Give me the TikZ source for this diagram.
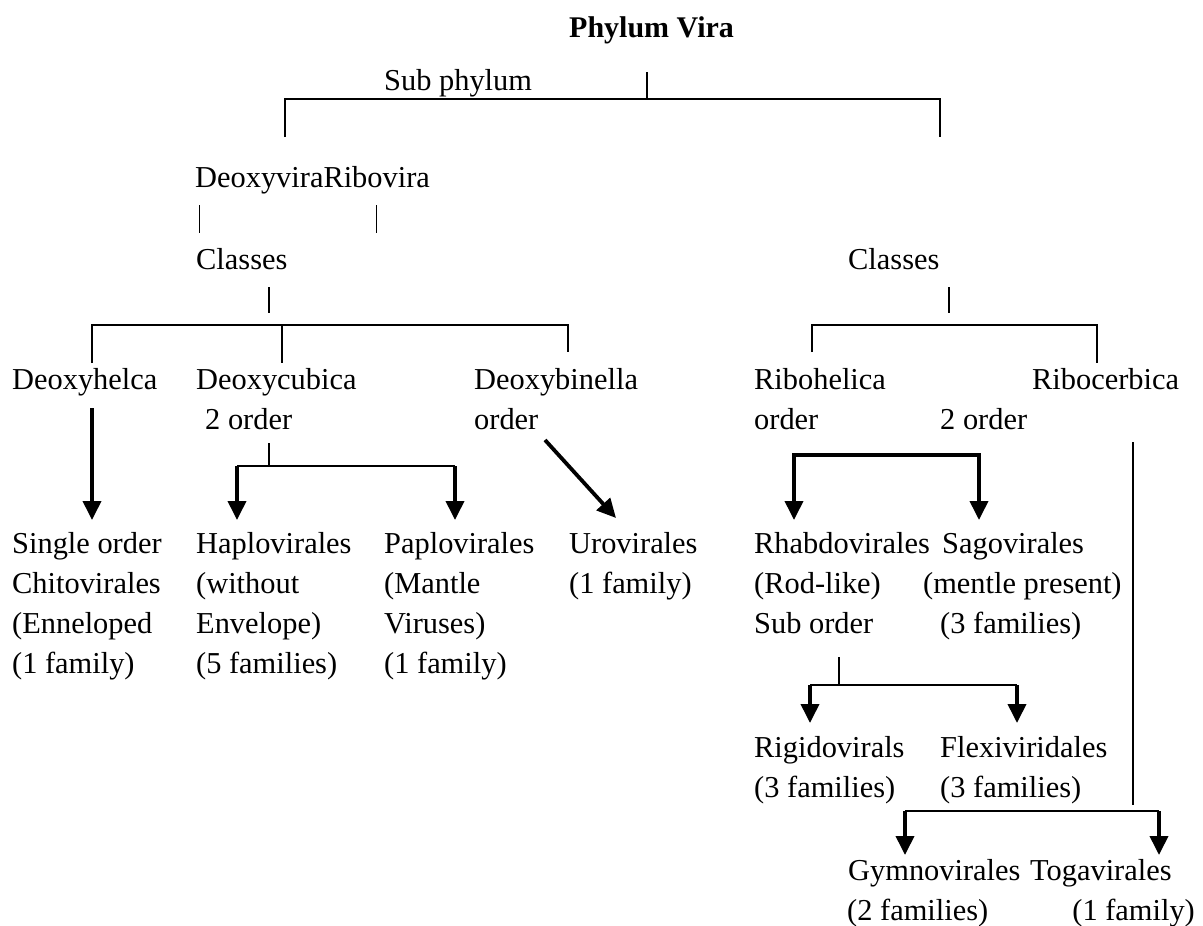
\documentclass[tikz,border=0pt]{standalone}
\usepackage{fontspec}
\setmainfont{Liberation Serif}
\usetikzlibrary{arrows.meta}
\begin{document}
\begin{tikzpicture}[x=1pt,y=-1pt,
  txt/.style={anchor=base west,inner sep=0pt,font=\fontsize{30.4}{41}\selectfont},
  ttl/.style={txt,font=\fontsize{30}{41}\selectfont\bfseries},
  ln/.style={line width=1.6pt},
  hair/.style={line width=1pt},
  mid/.style={line width=2.2pt},
  heavy/.style={line width=3.6pt,line cap=butt},
  arr/.style={line width=3.8pt,-{Triangle[width=18pt,length=19pt]}}
]
\useasboundingbox (0,0) rectangle (1203,926);
% ---------- texts ----------
\node[ttl] (phylum) at (569,37) {Phylum Vira};
\node[txt] (subph) at (384,90) {Sub phylum};
\node[txt] (dr) at (195,187) {DeoxyviraRibovira};
\node[txt] (classL) at (196,269) {Classes};
\node[txt] (classR) at (848,269) {Classes};
% row 1
\node[txt] (dhel) at (12,389) {Deoxyhelca};
\node[txt] (dcub) at (196,389) {Deoxycubica};
\node[txt] (dbin) at (474,389) {Deoxybinella};
\node[txt] (rhel) at (754,389) {Ribohelica};
\node[txt] (rcer) at (1032,389) {Ribocerbica};
% row 2
\node[txt] (dcubo) at (205,429) {2 order};
\node[txt] (dbino) at (474,429) {order};
\node[txt] (rhelo) at (754,429) {order};
\node[txt] (rhelt) at (940,429) {2 order};
% row 3
\node[txt] (s1) at (12,553) {Single order};
\node[txt] (s2) at (12,593) {Chitovirales};
\node[txt] (s3) at (12,633) {(Enneloped};
\node[txt] (s4) at (12,673) {(1 family)};
\node[txt] (h1) at (196,553) {Haplovirales};
\node[txt] (h2) at (196,593) {(without};
\node[txt] (h3) at (196,633) {Envelope)};
\node[txt] (h4) at (196,673) {(5 families)};
\node[txt] (p1) at (384,553) {Paplovirales};
\node[txt] (p2) at (384,593) {(Mantle};
\node[txt] (p3) at (384,633) {Viruses)};
\node[txt] (p4) at (384,673) {(1 family)};
\node[txt] (u1) at (569,553) {Urovirales};
\node[txt] (u2) at (569,593) {(1 family)};
\node[txt] (r1) at (754,553) {Rhabdovirales};
\node[txt] (r2) at (754,593) {(Rod-like)};
\node[txt] (r3) at (754,633) {Sub order};
\node[txt] (g1) at (942,553) {Sagovirales};
\node[txt] (g2) at (923,593) {(mentle present)};
\node[txt] (g3) at (940,633) {(3 families)};
% row 4
\node[txt] (ri1) at (754,757) {Rigidovirals};
\node[txt] (ri2) at (754,797) {(3 families)};
\node[txt] (fl1) at (940,757) {Flexiviridales};
\node[txt] (fl2) at (940,797) {(3 families)};
% row 5
\node[txt] (gy1) at (848,880) {Gymnovirales};
\node[txt] (gy2) at (847,920) {(2 families)};
\node[txt] (to1) at (1030,880) {Togavirales};
\node[txt,anchor=base east] (to2) at (1195,920) {(1 family)};
% ---------- coordinates ----------
\coordinate (a0) at (647,72);  \coordinate (a1) at (647,99);
\coordinate (aL) at (285,99);  \coordinate (aR) at (940,99);
\coordinate (aLd) at (285,137); \coordinate (aRd) at (940,137);
\coordinate (t1a) at (199,205); \coordinate (t1b) at (199,233);
\coordinate (t2a) at (376,205); \coordinate (t2b) at (376,233);
\coordinate (c0) at (269,287); \coordinate (c1) at (269,313);
\coordinate (cL) at (92,325); \coordinate (cR) at (568,325);
\coordinate (cLd) at (92,363); \coordinate (cM) at (282,325); \coordinate (cMd) at (282,363);
\coordinate (cRd) at (568,352);
\coordinate (e0) at (92,408); \coordinate (e1) at (92,520);
\coordinate (f0) at (269,443); \coordinate (f1) at (269,466);
\coordinate (fL) at (237,466); \coordinate (fR) at (455,466);
\coordinate (fLd) at (237,520); \coordinate (fRd) at (455,520);
\coordinate (d0) at (545,440); \coordinate (d1) at (616,518);
\coordinate (k0) at (949,287); \coordinate (k1) at (949,313);
\coordinate (kL) at (812,325); \coordinate (kR) at (1097,325);
\coordinate (kLd) at (812,352); \coordinate (kRd) at (1097,363);
\coordinate (m0) at (794,455); \coordinate (m1) at (979,455);
\coordinate (m0d) at (794,520); \coordinate (m1d) at (979,520);
\coordinate (v0) at (1133,442); \coordinate (v1) at (1133,805);
\coordinate (n0) at (839,657); \coordinate (n1) at (839,685);
\coordinate (nL) at (810,685); \coordinate (nR) at (1017,685);
\coordinate (nLd) at (810,723); \coordinate (nRd) at (1017,723);
\coordinate (bL) at (905,811); \coordinate (bR) at (1159,811);
\coordinate (bLd) at (905,855); \coordinate (bRd) at (1159,855);
% ---------- lines ----------
\draw[ln] (a0) -- (a1);
\draw[ln] (aLd) -- (aL) -- (aR) -- (aRd);
\draw[hair] (t1a) -- (t1b);
\draw[hair] (t2a) -- (t2b);
\draw[ln] (c0) -- (c1);
\draw[ln] (cLd) -- (cL) -- (cR) -- (cRd);
\draw[ln] (cM) -- (cMd);
\draw[arr] (e0) -- (e1);
\draw[ln] (f0) -- (f1);
\draw[mid] (fL) -- (fR);
\draw[arr] (fL) -- (fLd);
\draw[arr] (fR) -- (fRd);
\draw[arr] (d0) -- (d1);
\draw[ln] (k0) -- (k1);
\draw[ln] (kLd) -- (kL) -- (kR) -- (kRd);
\draw[heavy] ([xshift=-1.8pt]m0) -- ([xshift=1.8pt]m1);
\draw[arr] (m0) -- (m0d);
\draw[arr] (m1) -- (m1d);
\draw[mid] (v0) -- (v1);
\draw[ln] (n0) -- (n1);
\draw[mid] (nL) -- (nR);
\draw[arr] (nL) -- (nLd);
\draw[arr] (nR) -- (nRd);
\draw[mid] (bL) -- (bR);
\draw[arr] (bL) -- (bLd);
\draw[arr] (bR) -- (bRd);
\end{tikzpicture}
\end{document}
